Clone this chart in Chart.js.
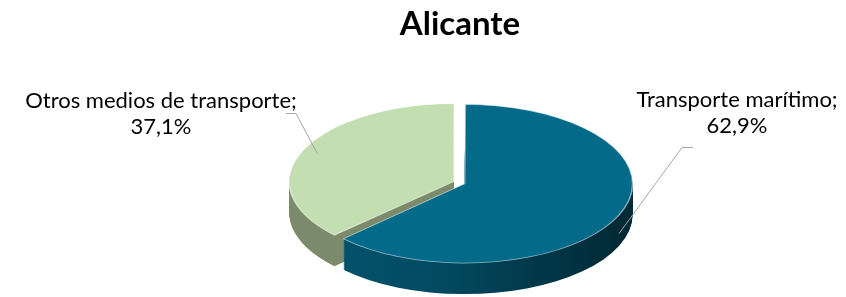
<!DOCTYPE html>
<html><head><meta charset="utf-8">
<script src="https://cdn.jsdelivr.net/npm/chart.js@4/dist/chart.umd.min.js"></script>
<style>html,body{margin:0;padding:0;background:#fff;}#wrap{width:846px;height:297px;}</style>
</head><body><div id="wrap"><canvas id="c" width="846" height="297"></canvas></div>
<script>
// ---- data ----
const chartTitle = 'Alicante';
const categories = ['Transporte marítimo', 'Otros medios de transporte'];
const shares = [62.9, 37.1];

// ---- style ----
const topColors = ['#046A89', '#C3DEB0'];
const explode = [13, 17];
const RX = 163, RY = 77, DEPTH = 31;
const labelFont = '22px Lato';
// label layout: centre x, first baseline, leader start/elbow, anchor on slice
const labelLayout = [
  {x: 737, y: 107, lx0: 693, lx1: 682, ly: 147, f: 1.0},
  {x: 161, y: 108, lx0: 286, lx1: 296, ly: 113, f: 0.9}
];

function arcShift(arc, sx, sy) {
  const o = (arc.options.offset || 0) / 4;
  const fix = 1 - Math.sin(Math.min(Math.PI, arc.circumference || 0));
  const t = o * (1 + fix);
  const half = (arc.startAngle + arc.endAngle) / 2;
  return {dx: Math.cos(half) * t * sx, dy: Math.sin(half) * t * sy};
}

const pie3d = {
  id: 'pie3d',
  beforeDatasetsDraw(chart) {
    const ctx = chart.ctx;
    const arcs = chart.getDatasetMeta(0).data;
    const r = arcs[0].outerRadius, cx = arcs[0].x, cy = arcs[0].y;
    const sx = RX / r, sy = RY / r;
    const tg = ctx.createLinearGradient(cx - RX, 0, cx + RX, 0);
    tg.addColorStop(0, '#035B77');
    tg.addColorStop(0.45, '#024A61');
    tg.addColorStop(0.8, '#012A36');
    tg.addColorStop(1, '#012F3C');
    const g = arcs[1];
    const gs = arcShift(g, sx, sy);
    const cornerX = cx + gs.dx + Math.cos(g.startAngle) * r * sx;
    const gx0 = cx - RX - 30, gx1 = cx + RX;
    const tt = Math.min(0.999, Math.max(0.001, (cornerX - gx0) / (gx1 - gx0)));
    const gg = ctx.createLinearGradient(gx0, 0, gx1, 0);
    gg.addColorStop(0, '#A9BF95');
    gg.addColorStop(tt - 0.001, '#A9BF95');
    gg.addColorStop(tt, '#7B8A6A');
    gg.addColorStop(1, '#7B8A6A');
    const sideFill = [tg, gg];
    const drawArc = (arc, opts, dy) => {
      const fake = Object.create(arc);
      fake.options = Object.assign({}, arc.options, opts);
      ctx.save();
      ctx.translate(cx, cy + dy);
      ctx.scale(sx, sy);
      ctx.translate(-cx, -cy);
      arc.draw.call(fake, ctx);
      ctx.restore();
    };
    for (let d = DEPTH; d >= 1; d--) {
      arcs.forEach((arc, i) => drawArc(arc, {backgroundColor: sideFill[i], borderWidth: 0}, d));
    }
    arcs.forEach((arc, i) => drawArc(arc, {borderWidth: 1, borderColor: 'rgba(255,255,255,0.55)'}, 0));
    return false;
  },
  afterDraw(chart) {
    const ctx = chart.ctx;
    const arcs = chart.getDatasetMeta(0).data;
    const r = arcs[0].outerRadius, cx = arcs[0].x, cy = arcs[0].y;
    const sx = RX / r, sy = RY / r;
    ctx.save();
    arcs.forEach((arc, i) => {
      const L = labelLayout[i];
      const s = arcShift(arc, sx, sy);
      const mid = (arc.startAngle + arc.endAngle) / 2;
      const px = cx + s.dx + Math.cos(mid) * r * sx * L.f;
      let py = cy + s.dy + Math.sin(mid) * r * sy * L.f;
      if (Math.sin(mid) > 0) py += DEPTH * 0.6;
      ctx.strokeStyle = '#A6A6A6';
      ctx.lineWidth = 1;
      ctx.beginPath();
      ctx.moveTo(L.lx0, L.ly + 0.5);
      ctx.lineTo(L.lx1, L.ly + 0.5);
      ctx.lineTo(px, py);
      ctx.stroke();
      ctx.fillStyle = '#000';
      ctx.font = labelFont;
      ctx.textAlign = 'center';
      ctx.textBaseline = 'alphabetic';
      ctx.fillText(categories[i] + ';', L.x, L.y);
      ctx.fillText(shares[i].toFixed(1).replace('.', ',') + '%', L.x, L.y + 26);
    });
    ctx.restore();
  }
};

new Chart(document.getElementById('c'), {
  type: 'pie',
  data: {
    labels: categories,
    datasets: [{data: shares, backgroundColor: topColors, borderWidth: 0, offset: explode}]
  },
  options: {
    responsive: false,
    devicePixelRatio: 1,
    animation: false,
    events: [],
    layout: {padding: {left: 74, top: 0, bottom: 0, right: 0}},
    plugins: {
      legend: {display: false},
      tooltip: {enabled: false},
      title: {display: true, text: chartTitle, color: '#000',
        font: {family: 'Lato', size: 33, weight: 'bold'}, padding: {top: 5, bottom: 24}}
    }
  },
  plugins: [pie3d]
});
</script></body></html>
